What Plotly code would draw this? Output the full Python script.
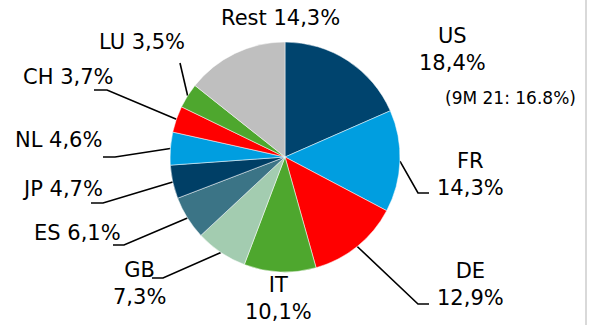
import math
import plotly.graph_objects as go

# ---- data ----
countries = ["US", "FR", "DE", "IT", "GB", "ES", "JP", "NL", "CH", "LU", "Rest"]
shares = [18.4, 14.3, 12.9, 10.1, 7.3, 6.1, 4.7, 4.6, 3.7, 3.5, 14.3]
share_labels = ["18,4%", "14,3%", "12,9%", "10,1%", "7,3%", "6,1%", "4,7%", "4,6%", "3,7%", "3,5%", "14,3%"]
us_prior_note = "(9M 21: 16.8%)"

colors = ["#00446E", "#009EE0", "#FF0000", "#4EA72E", "#A3CCB0", "#3B7486",
          "#003F66", "#009EE0", "#FF0000", "#4EA72E", "#BFBFBF"]

W, H = 592, 325
CX, CY, R = 285, 157, 115
FONT = "DejaVu Sans"
FS = 21

# label layout: text centre, one- or two-line text, leader elbow points after the pie edge
label_layout = {
    "US":   dict(x=452, y=49, two=True, leader=None),
    "FR":   dict(x=470, y=174, two=True, leader=[(418, 193), (429, 193)]),
    "DE":   dict(x=470, y=284, two=True, leader=[(418, 304), (429, 304)]),
    "IT":   dict(x=278, y=298, two=True, leader=None),
    "GB":   dict(x=139, y=283, two=True, leader=[(163, 278), (152, 278)]),
    "ES":   dict(x=77, y=233, two=False, leader=[(124, 245), (113, 245)]),
    "JP":   dict(x=62, y=189, two=False, leader=[(103, 203), (91, 203)]),
    "NL":   dict(x=58, y=140, two=False, leader=[(115, 157), (103, 157)]),
    "CH":   dict(x=68, y=77, two=False, leader=[(107, 90), (94, 90)]),
    "LU":   dict(x=142, y=42, two=False, leader=[(180, 63)]),
    "Rest": dict(x=280, y=18, two=False, leader=None),
}

fig = go.Figure()

fig.add_trace(go.Pie(
    labels=countries, values=shares, sort=False, direction="clockwise", rotation=0,
    marker=dict(colors=colors, line=dict(color="white", width=0.5)),
    textinfo="none", hoverinfo="label+percent", showlegend=False,
    domain=dict(x=[(CX - R) / W, (CX + R) / W], y=[1 - (CY + R) / H, 1 - (CY - R) / H]),
))

total = sum(shares)
cum = 0.0
annotations = []
for name, val, lab in zip(countries, shares, share_labels):
    mid = (cum + val / 2) / total * 2 * math.pi
    cum += val
    lay = label_layout[name]
    if lay["leader"]:
        pts = [(CX + R * math.sin(mid), CY - R * math.cos(mid))] + lay["leader"]
        fig.add_trace(go.Scatter(x=[p[0] for p in pts], y=[p[1] for p in pts], mode="lines",
                                 line=dict(color="black", width=1.6), hoverinfo="skip",
                                 showlegend=False, xaxis="x", yaxis="y"))
    text = f"{name}<br>{lab}" if lay["two"] else f"{name} {lab}"
    annotations.append(dict(x=lay["x"], y=lay["y"], xref="x", yref="y", text=text,
                            showarrow=False, xanchor="center", yanchor="middle",
                            font=dict(family=FONT, size=FS, color="black")))

annotations.append(dict(x=510, y=98, xref="x", yref="y", text=us_prior_note, showarrow=False,
                        xanchor="center", yanchor="middle",
                        font=dict(family=FONT, size=17, color="black")))

fig.add_shape(type="line", xref="x", yref="y", x0=586, x1=586, y0=0, y1=H,
              line=dict(color="#D9D9D9", width=2))

fig.update_layout(
    width=W, height=H, margin=dict(l=0, r=0, t=0, b=0),
    paper_bgcolor="white", plot_bgcolor="rgba(0,0,0,0)",
    xaxis=dict(range=[0, W], visible=False, fixedrange=True),
    yaxis=dict(range=[H, 0], visible=False, fixedrange=True),
    annotations=annotations,
)

fig.write_html("out.html")
